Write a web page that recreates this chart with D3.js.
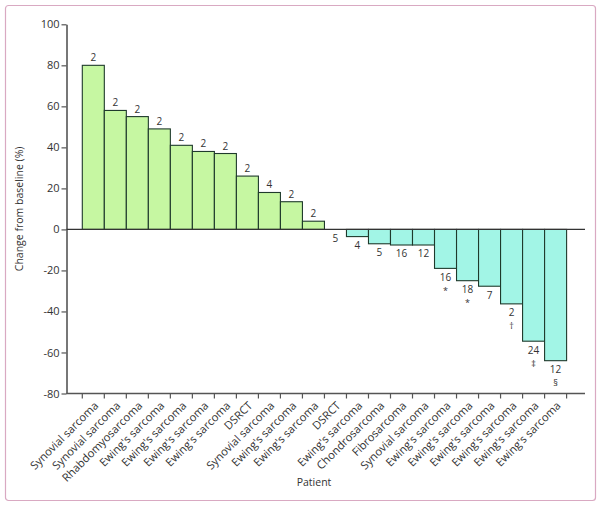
<!DOCTYPE html>
<html>
<head>
<meta charset="utf-8">
<script src="https://cdn.jsdelivr.net/npm/d3@7"></script>
<style>
  html, body { margin: 0; padding: 0; background: #fff; }
  svg { display: block; }
  text { font-family: "Open Sans", "Noto Sans", sans-serif; fill: #333; }
</style>
</head>
<body>
<svg id="chart" width="600" height="505"></svg>
<script>
// ---- data ----
const categories = [
  "Synovial sarcoma", "Synovial sarcoma", "Rhabdomyosarcoma", "Ewing's sarcoma",
  "Ewing's sarcoma", "Ewing's sarcoma", "Ewing's sarcoma", "DSRCT",
  "Synovial sarcoma", "Ewing's sarcoma", "Ewing's sarcoma", "DSRCT",
  "Ewing's sarcoma", "Chondrosarcoma", "Fibrosarcoma", "Synovial sarcoma",
  "Ewing's sarcoma", "Ewing's sarcoma", "Ewing's sarcoma", "Ewing's sarcoma",
  "Ewing's sarcoma", "Ewing's sarcoma"
];
const changes = [80, 58, 55, 49, 41, 38, 37, 26, 18, 13.5, 4, 0,
                 -3.5, -7, -7.6, -7.6, -19, -25, -27.7, -36.3, -54.5, -64];
const cycles = ["2", "2", "2", "2", "2", "2", "2", "2", "4", "2", "2", "5",
                "4", "5", "16", "12", "16", "18", "7", "2", "24", "12"];
const marks = ["", "", "", "", "", "", "", "", "", "", "", "",
               "", "", "", "", "*", "*", "", "\u2020", "\u2021", "\u00A7"];
const yTicks = [100, 80, 60, 40, 20, 0, -20, -40, -60, -80];

// ---- layout ----
const svg = d3.select("#chart");
const mLeft = 66.5, mRight = 585, mTop = 24.3, mBottom = 393.5;
const barStart = 82.3, barEnd = 566.6;

svg.append("rect")
  .attr("x", 5.5).attr("y", 5.5).attr("width", 590).attr("height", 495)
  .attr("rx", 3).attr("fill", "#fff")
  .attr("stroke", "#d9a9c2").attr("stroke-width", 1.2);

const y = d3.scaleLinear().domain([-80, 100]).range([mBottom, mTop]);
const idx = d3.range(categories.length);
const x = d3.scaleBand().domain(idx).range([barStart, barEnd]).padding(0);

// y axis
const yAxis = svg.append("g")
  .attr("transform", `translate(${mLeft},0)`)
  .call(d3.axisLeft(y).tickValues(yTicks).tickSize(5).tickSizeOuter(0).tickFormat(d => String(d)));
yAxis.select(".domain").attr("stroke", "#555").attr("stroke-width", 1.6);
yAxis.selectAll(".tick line").attr("stroke", "#555").attr("stroke-width", 1.2);
yAxis.selectAll(".tick text").attr("font-size", 11).attr("fill", "#333")
  .attr("font-family", "'Open Sans', sans-serif").attr("x", -7);

// bottom axis line at -80 with ticks at bar edges
const bottomG = svg.append("g");
bottomG.append("line")
  .attr("x1", mLeft).attr("x2", mRight).attr("y1", y(-80)).attr("y2", y(-80))
  .attr("stroke", "#555").attr("stroke-width", 1.4);
const edges = idx.map(i => x(i)).concat([x(idx[idx.length - 1]) + x.bandwidth()]);
bottomG.selectAll("line.tk").data(edges).enter().append("line")
  .attr("class", "tk")
  .attr("x1", d => d).attr("x2", d => d)
  .attr("y1", y(-80)).attr("y2", y(-80) + 5)
  .attr("stroke", "#555").attr("stroke-width", 1.2);

// category labels
bottomG.selectAll("text.cat").data(idx).enter().append("text")
  .attr("class", "cat")
  .attr("transform", i => `translate(${x(i) + x.bandwidth() / 2 + 3},${y(-80) + 10}) rotate(-45)`)
  .attr("text-anchor", "end")
  .attr("font-size", 11.2)
  .attr("dy", "0.35em")
  .text(i => categories[i]);

// bars
svg.selectAll("rect.bar").data(idx).enter().append("rect")
  .attr("class", "bar")
  .attr("x", i => x(i))
  .attr("width", x.bandwidth())
  .attr("y", i => y(Math.max(0, changes[i])))
  .attr("height", i => Math.abs(y(changes[i]) - y(0)))
  .attr("fill", i => changes[i] > 0 ? "#c6f7a2" : "#a2f5e6")
  .attr("stroke", "#1f3a2c").attr("stroke-width", 1.1);

// zero line
svg.append("line")
  .attr("x1", mLeft).attr("x2", mRight).attr("y1", y(0)).attr("y2", y(0))
  .attr("stroke", "#333").attr("stroke-width", 1.1);

// value labels
svg.selectAll("text.val").data(idx).enter().append("text")
  .attr("class", "val")
  .attr("x", i => x(i) + x.bandwidth() / 2)
  .attr("y", i => changes[i] > 0 ? y(changes[i]) - 4 : y(changes[i]) + 12.5)
  .attr("text-anchor", "middle")
  .attr("font-size", 10)
  .text(i => cycles[i]);

svg.selectAll("text.mark").data(idx.filter(i => marks[i])).enter().append("text")
  .attr("class", "mark")
  .attr("x", i => x(i) + x.bandwidth() / 2)
  .attr("y", i => y(changes[i]) + 25.5)
  .attr("text-anchor", "middle")
  .attr("font-size", 9)
  .text(i => marks[i]);

// axis titles
svg.append("text")
  .attr("transform", `translate(23,${(mTop + mBottom) / 2}) rotate(-90)`)
  .attr("text-anchor", "middle")
  .attr("font-size", 10.5)
  .text("Change from baseline (%)");

svg.append("text")
  .attr("x", 314).attr("y", 486)
  .attr("text-anchor", "middle")
  .attr("font-size", 10.5)
  .text("Patient");
</script>
</body>
</html>
